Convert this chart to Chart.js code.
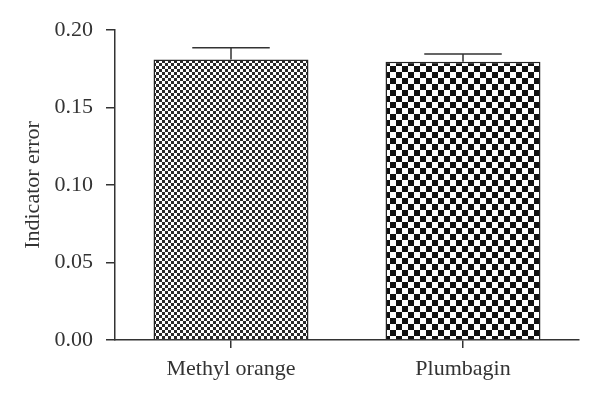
<!DOCTYPE html>
<html>
<head>
<meta charset="utf-8">
<script src="https://cdn.jsdelivr.net/npm/chart.js@4"></script>
<style>
  html, body { margin: 0; padding: 0; background: #fff; }
  #wrap { width: 600px; height: 403px; }
</style>
</head>
<body>
<div id="wrap"><canvas id="errorChart"></canvas></div>
<script>
// Dados
const categories = ['Methyl orange', 'Plumbagin'];
const means = [0.181, 0.1795];
const errors = [0.0075, 0.005];
const yTicks = [0, 0.05, 0.10, 0.15, 0.20];

// padrão xadrez para as barras
function checker(cell, dark) {
    const c = document.createElement('canvas');
    c.width = cell * 2;
    c.height = cell * 2;
    const g = c.getContext('2d');
    g.fillStyle = '#fff';
    g.fillRect(0, 0, c.width, c.height);
    g.fillStyle = dark;
    g.fillRect(0, 0, cell, cell);
    g.fillRect(cell, cell, cell, cell);
    return g.createPattern(c, 'repeat');
}

const ink = '#333';

// barras de erro (só o lado de cima)
const errorBars = {
    id: 'errorBars',
    afterDatasetsDraw(chart) {
        const ctx = chart.ctx;
        const meta = chart.getDatasetMeta(0);
        const y = chart.scales.y;
        ctx.save();
        ctx.strokeStyle = ink;
        ctx.lineWidth = 1.5;
        meta.data.forEach(function(bar, i) {
            const top = y.getPixelForValue(means[i] + errors[i]);
            const base = y.getPixelForValue(means[i]);
            const half = bar.width / 4;
            ctx.beginPath();
            ctx.moveTo(bar.x, base);
            ctx.lineTo(bar.x, top);
            ctx.moveTo(bar.x - half, top);
            ctx.lineTo(bar.x + half, top);
            ctx.stroke();
        });
        ctx.restore();
    }
};

const font = { family: "'Liberation Serif', 'DejaVu Serif', serif", size: 22 };

new Chart(document.getElementById('errorChart'), {
    type: 'bar',
    data: {
        labels: categories,
        datasets: [{
            data: means,
            backgroundColor: [checker(3, '#2a2a2a'), checker(6, '#111')],
            borderColor: '#222',
            borderWidth: 1.5,
            borderSkipped: 'bottom',
            barPercentage: 0.668,
            categoryPercentage: 1
        }]
    },
    options: {
        responsive: true,
        maintainAspectRatio: false,
        animation: false,
        layout: { padding: { top: 30, right: 21, left: 20, bottom: 0 } },
        plugins: {
            legend: { display: false },
            tooltip: { enabled: false }
        },
        scales: {
            y: {
                min: 0,
                max: 0.2,
                afterBuildTicks: function(scale) {
                    scale.ticks = yTicks.map(function(v) { return { value: v }; });
                },
                afterFit: function(scale) { scale.width = 95; },
                ticks: {
                    color: ink,
                    font: font,
                    padding: 13,
                    callback: function(v) { return v.toFixed(2); }
                },
                grid: { drawOnChartArea: false, drawTicks: true, tickLength: 9, color: ink, lineWidth: 1.5 },
                border: { color: ink, width: 1.5 },
                title: {
                    display: true,
                    text: 'Indicator error',
                    color: ink,
                    font: font,
                    padding: 0
                }
            },
            x: {
                afterFit: function(scale) { scale.height = 63; },
                ticks: { color: ink, font: font, padding: 8 },
                grid: { offset: false, drawOnChartArea: false, drawTicks: true, tickLength: 8, color: ink, lineWidth: 1.5 },
                border: { color: ink, width: 1.5 }
            }
        }
    },
    plugins: [errorBars]
});
</script>
</body>
</html>
